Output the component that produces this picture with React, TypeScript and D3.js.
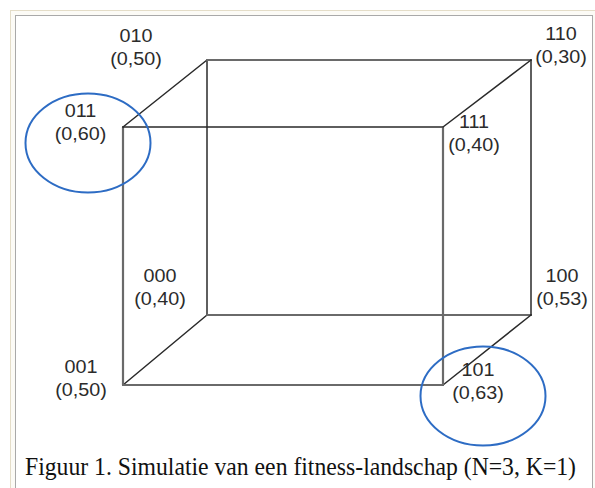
import React, { useEffect, useRef } from 'react';
import * as d3 from 'd3';

// genotypes on the corners of the cube and their fitness
const codes = ['000', '001', '010', '011', '100', '101', '110', '111'];
const fitness = [0.40, 0.50, 0.50, 0.60, 0.53, 0.63, 0.30, 0.40];
// local optima that are circled
const peaks = ['011', '101'];
const caption = 'Figuur 1. Simulatie van een fitness-landschap (N=3, K=1)';

// label placement relative to its corner (layout only)
const labelOffset: Record<string, [number, number]> = {
  '010': [-71, -18.5],
  '011': [-42.5, -10],
  '110': [30, -20],
  '111': [31, 1],
  '000': [-47, -33],
  '001': [-42, -12],
  '100': [31, -33],
  '101': [35, -9],
};
const ringOffset: Record<string, [number, number]> = {
  '011': [-35, 16],
  '101': [40, 11],
};
// edges drawn lighter and heavier in the scan
const softEdges = ['010-110', '011-001', '111-101', '000-100', '001-101'];

const W = 595;
const H = 488;

const App = () => {
  const ref = useRef<SVGSVGElement>(null);

  useEffect(() => {
    const svg = d3.select(ref.current);
    svg.selectAll('*').remove();

    // back face: first bit -> x, second bit -> y; third bit pulls to the front face
    const xBack = d3.scaleLinear().domain([0, 1]).range([207, 531]);
    const xFront = d3.scaleLinear().domain([0, 1]).range([123, 443]);
    const yBack = d3.scaleLinear().domain([0, 1]).range([315, 60]);
    const yFront = d3.scaleLinear().domain([0, 1]).range([385, 127]);
    const pos = (c: string): [number, number] => {
      const [a, b, d] = c.split('').map(Number);
      const x = d3.scaleLinear().domain([0, 1]).range([xBack(a), xFront(a)])(d);
      const y = d3.scaleLinear().domain([0, 1]).range([yBack(b), yFront(b)])(d);
      return [x, y];
    };
    const fmt = d3.formatLocale({ decimal: ',', thousands: '.', grouping: [3], currency: ['€', ''] }).format('.2f');

    // frame
    svg.append('rect').attr('x', 10.5).attr('y', 10.5).attr('width', 585).attr('height', 490)
      .attr('fill', '#fcfbf6').attr('stroke', '#e4ddc8');
    svg.append('rect').attr('x', 15.5).attr('y', 15.5).attr('width', 577).attr('height', 490)
      .attr('fill', '#ffffff').attr('stroke', '#a9a9a9');

    // edges between codes that differ in one bit
    const edges: [string, string][] = [];
    codes.forEach((c1, i) => codes.forEach((c2, j) => {
      if (j <= i) return;
      let diff = 0;
      for (let k = 0; k < 3; k++) if (c1[k] !== c2[k]) diff++;
      if (diff === 1) edges.push([c1, c2]);
    }));
    const isSoft = (e: [string, string]) =>
      softEdges.includes(e[0] + '-' + e[1]) || softEdges.includes(e[1] + '-' + e[0]);

    svg.append('g').selectAll('line').data(edges).join('line')
      .attr('x1', d => pos(d[0])[0]).attr('y1', d => pos(d[0])[1])
      .attr('x2', d => pos(d[1])[0]).attr('y2', d => pos(d[1])[1])
      .attr('stroke', d => isSoft(d) ? '#6a6a6a' : '#2a2a2a')
      .attr('stroke-width', d => isSoft(d) ? 2.2 : 1.5)
      .attr('stroke-linecap', 'round');

    // labels
    const lab = svg.append('g').selectAll('g').data(codes).join('g')
      .attr('transform', c => {
        const [x, y] = pos(c);
        const o = labelOffset[c];
        return `translate(${x + o[0]},${y + o[1]}) scale(1.13,1)`;
      })
      .attr('font-family', 'Liberation Sans, Arial, sans-serif')
      .attr('font-size', 17.5)
      .attr('fill', '#2b2b2b')
      .attr('text-anchor', 'middle');
    lab.append('text').text(c => c);
    lab.append('text').attr('y', 23.5).text((c, i) => `(${fmt(fitness[i])})`);

    // circled optima
    svg.append('g').selectAll('ellipse').data(peaks).join('ellipse')
      .attr('cx', c => pos(c)[0] + ringOffset[c][0])
      .attr('cy', c => pos(c)[1] + ringOffset[c][1])
      .attr('rx', 62.5).attr('ry', 49.5)
      .attr('fill', 'none').attr('stroke', '#2d6cc4').attr('stroke-width', 2);

    svg.append('text').attr('x', 25).attr('y', 475)
      .attr('font-family', 'Liberation Serif, Times New Roman, serif')
      .attr('font-size', 24.5).attr('fill', '#111')
      .attr('textLength', 551).attr('lengthAdjust', 'spacingAndGlyphs')
      .text(caption);
  }, []);

  return (
    <div style={{ position: 'absolute', left: 0, top: 0 }}>
      <svg ref={ref} width={W} height={H} style={{ display: 'block', background: '#fff' }} />
    </div>
  );
};

export default App;
